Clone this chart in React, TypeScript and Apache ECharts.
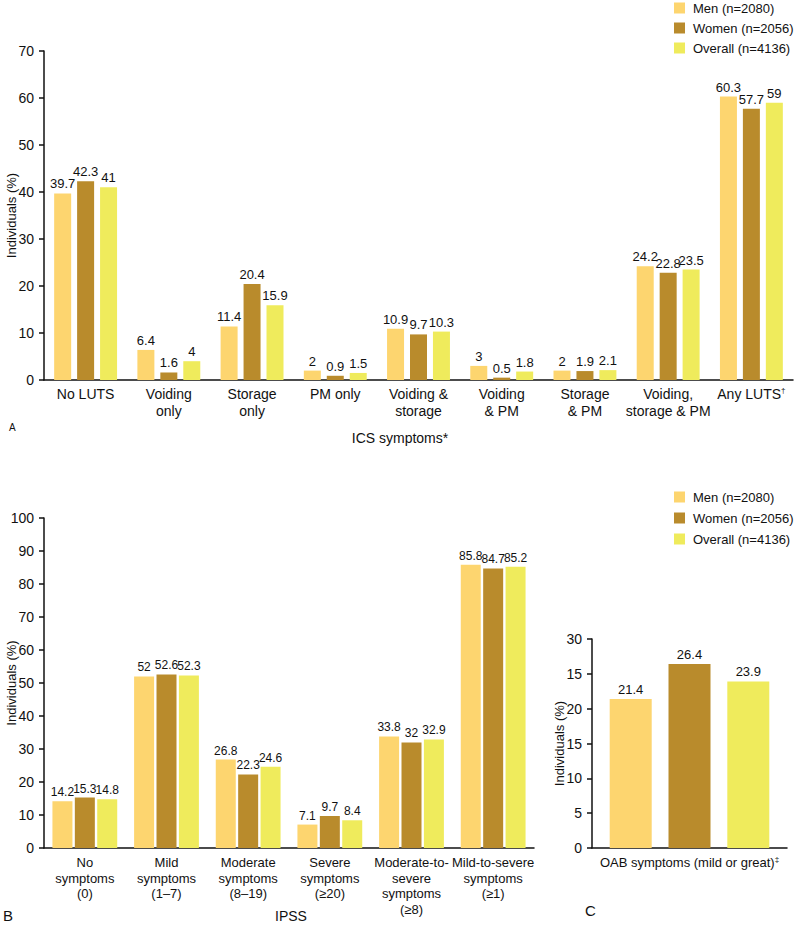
import React, { useEffect, useRef } from "react";
import * as echarts from "echarts";

const seriesNames = ["Men (n=2080)", "Women (n=2056)", "Overall (n=4136)"];
const colors = ["#FDD56F", "#B98B2C", "#EFEB5C"];

const icsCategories = [
  "No LUTS",
  "Voiding\nonly",
  "Storage\nonly",
  "PM only",
  "Voiding &\nstorage",
  "Voiding\n& PM",
  "Storage\n& PM",
  "Voiding,\nstorage & PM",
  "Any LUTS{s|†}",
];
const icsMen = [39.7, 6.4, 11.4, 2, 10.9, 3, 2, 24.2, 60.3];
const icsWomen = [42.3, 1.6, 20.4, 0.9, 9.7, 0.5, 1.9, 22.8, 57.7];
const icsOverall = [41, 4, 15.9, 1.5, 10.3, 1.8, 2.1, 23.5, 59];

const ipssCategories = [
  "No\nsymptoms\n(0)",
  "Mild\nsymptoms\n(1–7)",
  "Moderate\nsymptoms\n(8–19)",
  "Severe\nsymptoms\n(≥20)",
  "Moderate-to-\nsevere\nsymptoms\n(≥8)",
  "Mild-to-severe\nsymptoms\n(≥1)",
];
const ipssMen = [14.2, 52, 26.8, 7.1, 33.8, 85.8];
const ipssWomen = [15.3, 52.6, 22.3, 9.7, 32, 84.7];
const ipssOverall = [14.8, 52.3, 24.6, 8.4, 32.9, 85.2];

const oabCategories = ["OAB symptoms (mild or great){s|‡}"];
const oabMen = [21.4];
const oabWomen = [26.4];
const oabOverall = [23.9];
// tick labels as printed in the reference (note the second "15")
const oabTickLabels = ["0", "5", "10", "15", "20", "15", "30"];

const FONT = "Liberation Sans, Arial, Helvetica, sans-serif";

export default function App() {
  const ref = useRef<HTMLDivElement>(null);
  useEffect(() => {
    document.body.style.margin = "0";
    if (!ref.current) return;
    const chart = echarts.init(ref.current, undefined, { renderer: "svg" });

    const axisLine = { show: true, lineStyle: { color: "#111", width: 1.5 } };
    const yTick = { show: true, length: 5, lineStyle: { color: "#111", width: 1.5 } };
    const yLabel = { color: "#111", fontSize: 14, fontFamily: FONT, margin: 10 };
    const yName = (gap: number) => ({
      name: "Individuals (%)",
      nameLocation: "middle" as const,
      nameRotate: 90,
      nameGap: gap,
      nameMoveOverlap: false,
      nameTextStyle: { color: "#111", fontSize: 13, fontFamily: FONT },
    });
    const supRich = { s: { fontSize: 8, fontFamily: FONT, color: "#111", padding: [0, 0, 7, 0] } };

    const groups = [
      { data: [icsMen, icsWomen, icsOverall], idx: 0, barWidth: 17, barGap: "35%", fs: 13 },
      { data: [ipssMen, ipssWomen, ipssOverall], idx: 1, barWidth: 20, barGap: "12%", fs: 12 },
      { data: [oabMen, oabWomen, oabOverall], idx: 2, barWidth: 42, barGap: "40%", fs: 13 },
    ];
    const series: any[] = [];
    groups.forEach((g) => {
      g.data.forEach((vals, i) => {
        series.push({
          type: "bar",
          name: seriesNames[i],
          xAxisIndex: g.idx,
          yAxisIndex: g.idx,
          data: vals,
          barWidth: g.barWidth,
          barGap: g.barGap,
          itemStyle: { color: colors[i] },
          label: {
            show: true,
            position: "top",
            distance: 3,
            color: "#111",
            fontSize: g.fs,
            fontFamily: FONT,
          },
        });
      });
    });

    const legendCommon = {
      orient: "vertical" as const,
      left: 674,
      padding: 0,
      itemWidth: 11,
      itemHeight: 11,
      icon: "rect",
      selectedMode: false,
      textStyle: { color: "#111", fontSize: 13, fontFamily: FONT, padding: [0, 0, 0, 3] },
      data: seriesNames,
    };

    chart.setOption({
      animation: false,
      backgroundColor: "#fff",
      textStyle: { fontFamily: FONT },
      legend: [
        { ...legendCommon, top: 1.5, itemGap: 7 },
        { ...legendCommon, top: 490.5, itemGap: 8 },
      ],
      grid: [
        { left: 44, top: 51, width: 749, height: 329, outerBoundsMode: "none", containLabel: false },
        { left: 44, top: 518, width: 490, height: 330, outerBoundsMode: "none", containLabel: false },
        { left: 592, top: 639, width: 195, height: 209, outerBoundsMode: "none", containLabel: false },
      ],
      xAxis: [
        {
          type: "category",
          gridIndex: 0,
          data: icsCategories,
          axisLine,
          axisTick: { show: false },
          axisLabel: {
            interval: 0,
            color: "#111",
            fontSize: 14,
            lineHeight: 17,
            fontFamily: FONT,
            margin: 5,
            rich: supRich,
          },
        },
        {
          type: "category",
          gridIndex: 1,
          data: ipssCategories,
          axisLine,
          axisTick: { show: false },
          axisLabel: {
            interval: 0,
            color: "#111",
            fontSize: 13,
            lineHeight: 15.5,
            fontFamily: FONT,
            margin: 7,
          },
        },
        {
          type: "category",
          gridIndex: 2,
          data: oabCategories,
          axisLine,
          axisTick: { show: false },
          axisLabel: {
            interval: 0,
            color: "#111",
            fontSize: 13,
            fontFamily: FONT,
            margin: 7,
            rich: supRich,
          },
        },
      ],
      yAxis: [
        {
          type: "value",
          gridIndex: 0,
          min: 0,
          max: 70,
          interval: 10,
          axisLine,
          axisTick: yTick,
          axisLabel: yLabel,
          splitLine: { show: false },
          ...yName(26),
        },
        {
          type: "value",
          gridIndex: 1,
          min: 0,
          max: 100,
          interval: 10,
          axisLine,
          axisTick: yTick,
          axisLabel: yLabel,
          splitLine: { show: false },
          ...yName(26),
        },
        {
          type: "value",
          gridIndex: 2,
          min: 0,
          max: 30,
          interval: 5,
          axisLine,
          axisTick: yTick,
          axisLabel: {
            ...yLabel,
            formatter: (v: number) => oabTickLabels[Math.round(v / 5)] ?? String(v),
          },
          splitLine: { show: false },
          ...yName(26),
        },
      ],
      graphic: [
        { type: "text", left: 9, top: 422, style: { text: "A", fontSize: 10, fontFamily: FONT, fill: "#111" } },
        { type: "text", x: 400, y: 438, style: { text: "ICS symptoms*", fontSize: 14, fontFamily: FONT, fill: "#111", align: "center", verticalAlign: "middle" } },
        { type: "text", left: 3, top: 908, style: { text: "B", fontSize: 15, fontFamily: FONT, fill: "#111" } },
        { type: "text", x: 291, y: 916, style: { text: "IPSS", fontSize: 14, fontFamily: FONT, fill: "#111", align: "center", verticalAlign: "middle" } },
        { type: "text", left: 585, top: 903, style: { text: "C", fontSize: 15, fontFamily: FONT, fill: "#111" } },
      ],
      series,
    });
    return () => chart.dispose();
  }, []);
  return <div ref={ref} style={{ width: 800, height: 930 }} />;
}
